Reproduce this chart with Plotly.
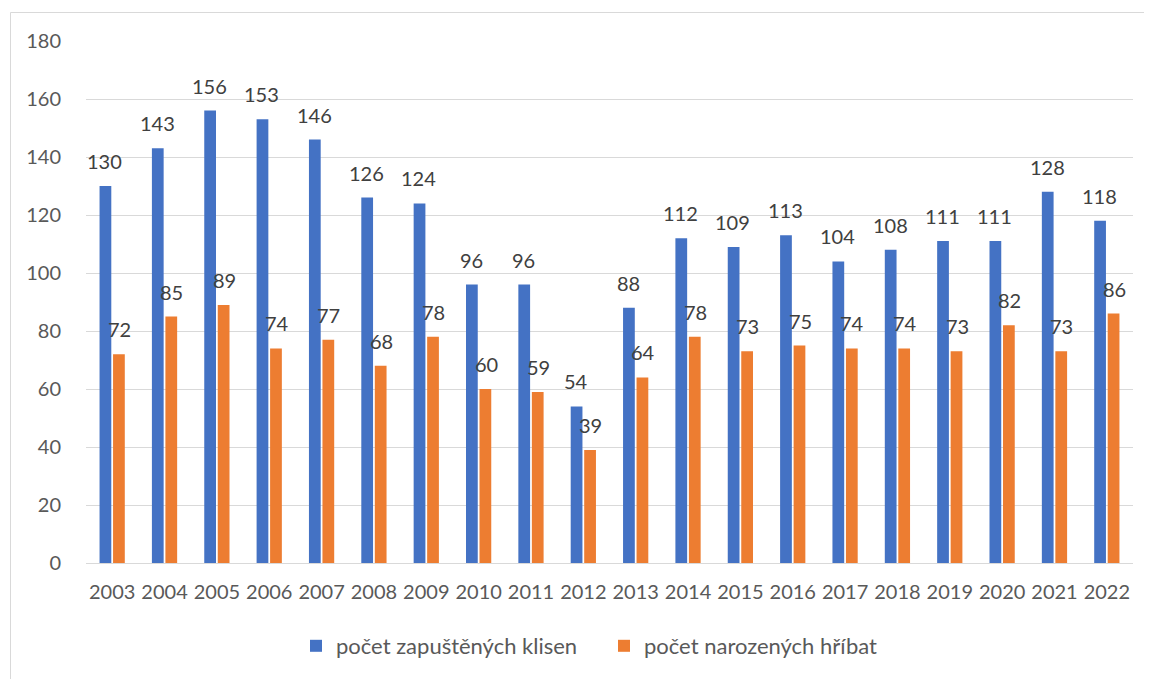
import plotly.graph_objects as go

years = [str(y) for y in range(2003, 2023)]
klisny = [130, 143, 156, 153, 146, 126, 124, 96, 96, 54, 88, 112, 109, 113, 104, 108, 111, 111, 128, 118]
hribata = [72, 85, 89, 74, 77, 68, 78, 60, 59, 39, 64, 78, 73, 75, 74, 74, 73, 82, 73, 86]
series_names = ["počet zapuštěných klisen", "počet narozených hříbat"]
colors = ["#4472C4", "#ED7D31"]
y_ticks = list(range(0, 181, 20))

# page body has an 8px margin; target pixel positions are compensated below
OFF = 8
W, H = 1152 - OFF, 679 - OFF
L, T = 86 - OFF, 41 - OFF
pw, ph = 1047, 522
R, B = W - L - pw, H - T - ph

FONT = "Lato"

fig = go.Figure()
for name, vals, col in zip(series_names, [klisny, hribata], colors):
    fig.add_trace(go.Bar(x=years, y=vals, name=name, marker=dict(color=col, line=dict(width=0))))

annotations = []
for vals, shift in [(klisny, -7.4), (hribata, 7.4)]:
    for i, v in enumerate(vals):
        annotations.append(dict(x=i, y=v, xref="x", yref="y", text=str(v), showarrow=False,
                                xshift=shift, yanchor="bottom", yshift=11,
                                font=dict(family=FONT, size=20, color="#404040")))

def px_x(p):
    return (p - OFF - L) / pw

def px_y(p):
    return (T + ph - (p - OFF)) / ph

fig.update_layout(
    width=W, height=H,
    margin=dict(l=L, r=R, t=T, b=B),
    paper_bgcolor="white", plot_bgcolor="white",
    barmode="group", bargap=0.484, bargroupgap=0.13,
    font=dict(family=FONT, size=20, color="#595959"),
    showlegend=True,
    legend=dict(orientation="h", x=px_x(296), xanchor="left", y=px_y(646), yanchor="middle",
                font=dict(family=FONT, size=22, color="#595959"), traceorder="normal",
                entrywidth=263),
    annotations=annotations,
    shapes=[dict(type="rect", xref="paper", yref="paper",
                 x0=px_x(10.5), x1=px_x(1160), y0=px_y(690), y1=px_y(12.5),
                 line=dict(color="#D9D9D9", width=1), layer="below")],
    xaxis=dict(type="category", categoryorder="array", categoryarray=years,
               range=[-0.5, len(years) - 0.5],
               showgrid=False, zeroline=False, showline=True,
               linecolor="#D9D9D9", linewidth=1, ticks="outside", ticklen=11,
               tickcolor="rgba(0,0,0,0)",
               tickfont=dict(family=FONT, size=20, color="#595959")),
    yaxis=dict(range=[0, 180], tickvals=y_ticks, showgrid=True, gridcolor="#D9D9D9", gridwidth=1,
               zeroline=False, showline=False, ticks="outside", ticklen=20,
               tickcolor="rgba(0,0,0,0)",
               tickfont=dict(family=FONT, size=20, color="#595959")),
)

fig.write_html("out.html")
